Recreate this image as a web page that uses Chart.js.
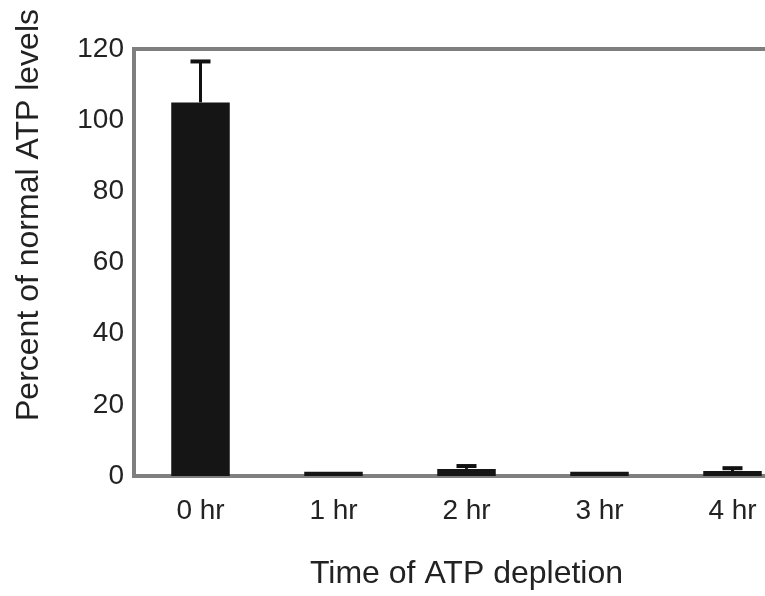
<!DOCTYPE html>
<html>
<head>
<meta charset="utf-8">
<script src="https://cdn.jsdelivr.net/npm/chart.js@4"></script>
<style>
html,body{margin:0;padding:0;background:#fff;overflow:hidden;width:765px;height:596px;}
canvas{display:block;}
</style>
</head>
<body>
<canvas id="c" width="800" height="596"></canvas>
<script>
const categories = ["0 hr", "1 hr", "2 hr", "3 hr", "4 hr"];
const atpPercent = [105, 1.2, 2.0, 1.2, 1.4];
const atpError = [11.5, 0, 0.8, 0, 0.8];
const yTicks = [0, 20, 40, 60, 80, 100, 120];
const yTitle = 'Percent of normal ATP levels';
const xTitle = 'Time of ATP depletion';

const errorBarPlugin = {
  id: 'errorBars',
  afterDatasetsDraw(chart) {
    const ctx = chart.ctx;
    const meta = chart.getDatasetMeta(0);
    const ys = chart.scales.y;
    ctx.save();
    ctx.strokeStyle = '#111';
    meta.data.forEach((bar, i) => {
      const e = atpError[i];
      if (!e) return;
      const x = bar.x;
      const y0 = ys.getPixelForValue(atpPercent[i]);
      const y1 = ys.getPixelForValue(atpPercent[i] + e);
      ctx.lineWidth = 3;
      ctx.beginPath();
      ctx.moveTo(x, y0);
      ctx.lineTo(x, y1);
      ctx.stroke();
      ctx.lineWidth = 4;
      ctx.beginPath();
      ctx.moveTo(x - 10, y1);
      ctx.lineTo(x + 10, y1);
      ctx.stroke();
    });
    ctx.restore();
  }
};

const decorPlugin = {
  id: 'decor',
  afterDraw(chart) {
    const {ctx, chartArea} = chart;
    ctx.save();
    ctx.strokeStyle = '#7f7f7f';
    ctx.lineWidth = 4;
    ctx.beginPath();
    ctx.moveTo(chartArea.left - 2, chartArea.top);
    ctx.lineTo(chart.width, chartArea.top);
    ctx.stroke();
    // y axis title
    ctx.fillStyle = '#222';
    ctx.font = '32px "Liberation Sans", Arial, sans-serif';
    ctx.textAlign = 'center';
    ctx.textBaseline = 'middle';
    ctx.translate(29, 215);
    ctx.rotate(-Math.PI / 2);
    ctx.fillText(yTitle, 0, 0);
    ctx.restore();
  }
};

new Chart(document.getElementById('c'), {
  type: 'bar',
  data: {
    labels: categories,
    datasets: [{
      data: atpPercent,
      backgroundColor: '#151515',
      borderWidth: 0,
      barPercentage: 0.44,
      categoryPercentage: 1.0
    }]
  },
  options: {
    responsive: false,
    animation: false,
    layout: { padding: { top: 49, right: 1, left: 0, bottom: 0 } },
    plugins: { legend: { display: false }, tooltip: { enabled: false } },
    scales: {
      x: {
        grid: { display: false, drawTicks: false },
        border: { display: true, color: '#7f7f7f', width: 4 },
        ticks: {
          color: '#222',
          font: { family: 'Liberation Sans, Arial, sans-serif', size: 28 },
          padding: 18
        },
        title: {
          display: true,
          text: xTitle,
          color: '#222',
          font: { family: 'Liberation Sans, Arial, sans-serif', size: 32 },
          padding: { top: 0, bottom: 3 }
        },
        afterFit: (s) => { s.height = 120; }
      },
      y: {
        min: 0,
        max: 120,
        afterBuildTicks: (s) => { s.ticks = yTicks.map(v => ({ value: v })); },
        grid: { display: false, drawTicks: false },
        border: { display: true, color: '#7f7f7f', width: 4 },
        ticks: {
          color: '#222',
          font: { family: 'Liberation Sans, Arial, sans-serif', size: 28 },
          padding: 10
        },
        title: { display: false },
        afterFit: (s) => { s.width = 134; }
      }
    }
  },
  plugins: [errorBarPlugin, decorPlugin]
});
</script>
</body>
</html>
